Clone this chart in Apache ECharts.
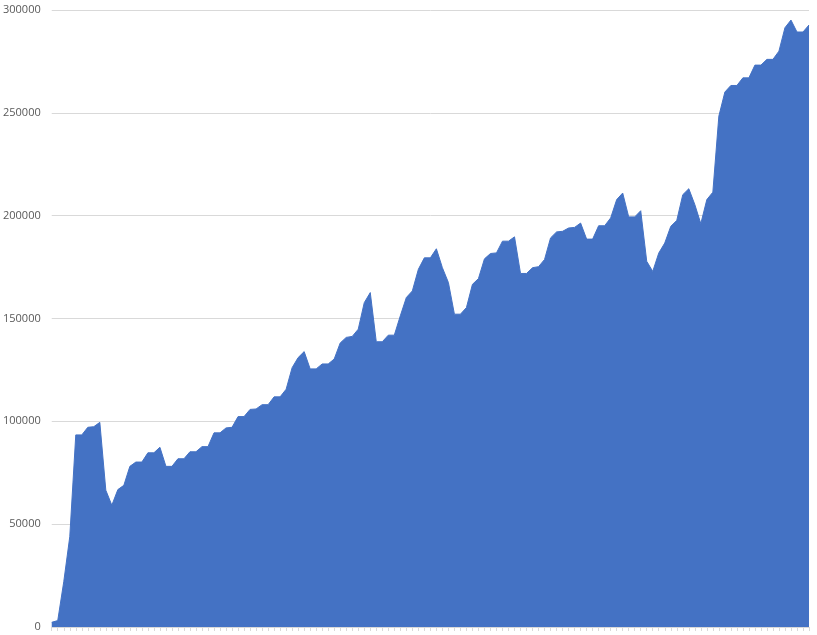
<!DOCTYPE html>
<html>
<head>
<meta charset="utf-8">
<script src="https://cdn.jsdelivr.net/npm/echarts@6/dist/echarts.min.js"></script>
<style>
  html, body { margin: 0; padding: 0; background: #ffffff; }
  #chart { width: 817px; height: 635px; }
</style>
</head>
<body>
<div id="chart"></div>
<script>
// Series values (127 points)
const values = [
  2300, 3100, 22000, 43900, 93400, 93400, 97100, 97400, 99500, 66500,
  59200, 66800, 68900, 78100, 80200, 80200, 84700, 84700, 87400, 78100,
  78100, 81800, 81800, 85200, 85200, 87700, 87700, 94400, 94400, 96800,
  97100, 102300, 102300, 105800, 106000, 108100, 108100, 111900, 111900, 115600,
  126100, 131000, 133900, 125500, 125500, 127900, 127900, 130300, 138100, 140800,
  141300, 144800, 157700, 162600, 138700, 138700, 141900, 141900, 151300, 160200,
  163400, 173900, 179500, 179500, 183900, 174700, 167500, 152100, 152100, 155300,
  166600, 169400, 179000, 181600, 181900, 187600, 187600, 189700, 171900, 171900,
  174700, 175200, 178700, 189200, 192100, 192400, 194000, 194300, 196400, 188600,
  188600, 195100, 195100, 198900, 207800, 211000, 199400, 199400, 202400, 177800,
  172900, 181800, 186700, 194800, 197700, 210200, 213100, 205400, 196100, 207800,
  211400, 248400, 260100, 263300, 263300, 267000, 267000, 273200, 273200, 276000,
  276000, 280000, 291400, 295100, 289300, 289300, 292700
];
// Category labels (not shown in the reference)
const categories = values.map((_, i) => String(i + 1));
// Y-axis ticks
const yMin = 0;
const yMax = 300000;
const yStep = 50000;

const chart = echarts.init(document.getElementById('chart'), null, { renderer: 'canvas' });
chart.setOption({
  animation: false,
  backgroundColor: '#ffffff',
  grid: { left: 50, right: 8, top: 10, bottom: 8, containLabel: false },
  xAxis: {
    type: 'category',
    data: categories,
    boundaryGap: false,
    axisLine: { show: true, lineStyle: { color: '#d9d9d9', width: 1 } },
    axisTick: { show: true, interval: 0, length: 4, lineStyle: { color: '#d9d9d9', width: 1 } },
    axisLabel: { show: false },
    splitLine: { show: false }
  },
  yAxis: {
    type: 'value',
    min: yMin,
    max: yMax,
    interval: yStep,
    axisLine: { show: false },
    axisTick: { show: false },
    axisLabel: {
      color: '#595959',
      fontFamily: 'Open Sans',
      fontSize: 11,
      margin: 11,
      formatter: (v) => String(v)
    },
    splitLine: { show: true, lineStyle: { color: '#d9d9d9', width: 1 } }
  },
  series: [{
    type: 'line',
    data: values,
    symbol: 'none',
    showSymbol: false,
    sampling: null,
    lineStyle: { color: '#4472c4', width: 1 },
    itemStyle: { color: '#4472c4' },
    areaStyle: { color: '#4472c4', opacity: 1 }
  }]
});
</script>
</body>
</html>
